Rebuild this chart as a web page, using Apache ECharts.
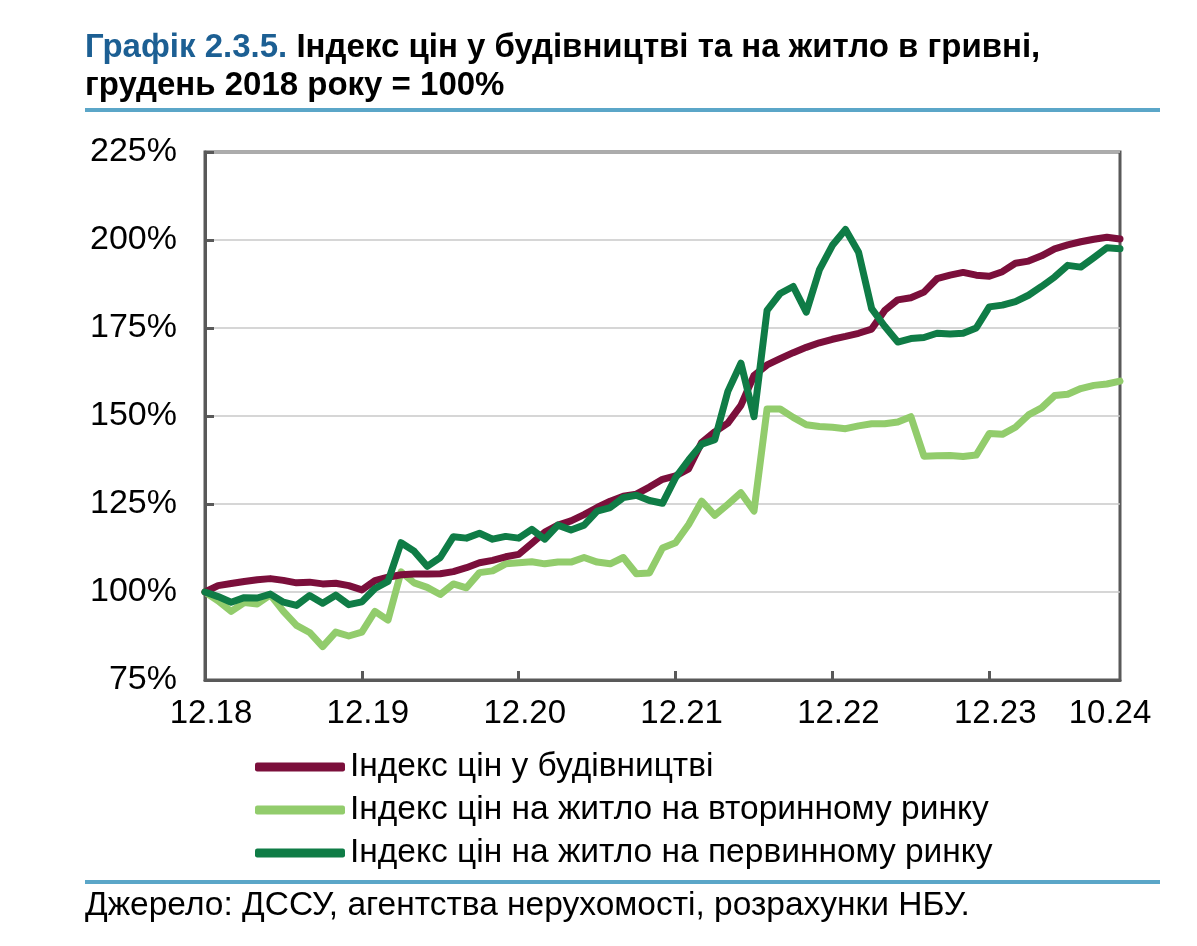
<!DOCTYPE html>
<html>
<head>
<meta charset="utf-8">
<script src="https://cdn.jsdelivr.net/npm/echarts@6/dist/echarts.min.js"></script>
<style>
html,body{margin:0;padding:0;background:#fff;}
#chart{width:1197px;height:946px;}
</style>
</head>
<body>
<div id="chart"></div>
<script>
const months = ['12.18','01.19','02.19','03.19','04.19','05.19','06.19','07.19','08.19','09.19','10.19','11.19',
'12.19','01.20','02.20','03.20','04.20','05.20','06.20','07.20','08.20','09.20','10.20','11.20',
'12.20','01.21','02.21','03.21','04.21','05.21','06.21','07.21','08.21','09.21','10.21','11.21',
'12.21','01.22','02.22','03.22','04.22','05.22','06.22','07.22','08.22','09.22','10.22','11.22',
'12.22','01.23','02.23','03.23','04.23','05.23','06.23','07.23','08.23','09.23','10.23','11.23',
'12.23','01.24','02.24','03.24','04.24','05.24','06.24','07.24','08.24','09.24','10.24'];

const shownLabels = ['12.18','12.19','12.20','12.21','12.22','12.23','10.24'];
const tickAt = ['12.19','12.20','12.21','12.22','12.23'];
const yTicks = [75,100,125,150,175,200,225];

const construction = [100,101.8,102.4,103.0,103.5,103.8,103.3,102.6,102.8,102.3,102.5,101.8,
100.6,103.2,104.2,104.9,105.1,105.1,105.2,105.8,106.9,108.3,109.0,110.0,
110.7,113.8,117.0,119.0,120.2,122.0,124.0,125.8,127.2,127.8,129.8,132.0,
133.0,135.0,142.5,145.5,148.0,153.0,161.5,164.5,166.3,168.0,169.5,170.8,
171.8,172.6,173.5,174.7,180.0,183.0,183.6,185.2,189.0,190.0,190.8,190.0,
189.7,191.0,193.4,194.0,195.5,197.5,198.6,199.5,200.2,200.8,200.3];

const secondary = [100,97.5,94.5,97.0,96.6,99.2,94.5,90.5,88.5,84.5,88.6,87.5,
88.6,94.5,92.0,105.7,102.6,101.3,99.3,102.3,101.2,105.5,106.0,108.0,
108.3,108.6,108.0,108.5,108.5,109.8,108.5,108.0,109.8,105.2,105.4,112.5,
114.0,119.2,125.8,121.8,124.9,128.2,123.0,152.0,152.0,149.6,147.5,147.0,
146.8,146.4,147.2,147.8,147.8,148.3,149.8,138.6,138.7,138.8,138.5,138.9,
145.0,144.8,146.8,150.3,152.3,155.8,156.2,157.8,158.7,159.1,159.9];

const primary = [100,98.7,97.1,98.4,98.3,99.4,97.1,96.2,99.0,96.8,99.1,96.4,
97.2,101.0,103.0,114.0,111.6,107.3,109.8,115.7,115.3,116.7,115.0,115.8,
115.3,117.8,115.0,119.0,117.6,119.0,123.0,124.0,126.8,127.5,126.0,125.2,
132.5,137.5,142.0,143.3,157.0,165.0,149.8,180.0,184.8,186.8,179.5,191.5,
198.5,203.0,196.5,180.5,175.5,171.0,172.0,172.3,173.5,173.3,173.5,175.0,
181.0,181.5,182.5,184.3,186.8,189.5,192.8,192.3,195.0,197.8,197.5];

const seriesNames = ['Індекс цін у будівництві','Індекс цін на житло на вторинному ринку','Індекс цін на житло на первинному ринку'];
const colors = ['#7b0f3b','#92cc6c','#0f7c46'];

const FONT = '"Liberation Sans", Arial, sans-serif';
const chart = echarts.init(document.getElementById('chart'), null, {renderer:'canvas'});

const option = {
  backgroundColor:'#fff',
  animation:false,
  title:{
    left:80, top:24,
    text:'{b|Графік 2.3.5. }{k|Індекс цін у будівництві та на житло в гривні,}\n{k|грудень 2018 року = 100%}',
    textStyle:{
      fontFamily:FONT,
      rich:{
        b:{color:'#1c5f93',fontWeight:'bold',fontSize:33,fontFamily:FONT,lineHeight:38},
        k:{color:'#000',fontWeight:'bold',fontSize:33,fontFamily:FONT,lineHeight:38}
      }
    }
  },
  graphic:[
    {type:'rect',shape:{x:85,y:108,width:1075,height:4},style:{fill:'#5ba6c8'}},
    {type:'rect',shape:{x:85,y:880,width:1075,height:4},style:{fill:'#5ba6c8'}},
    {type:'text',left:85,top:889,style:{text:'Джерело: ДССУ, агентства нерухомості, розрахунки НБУ.',fontSize:33.5,fontFamily:FONT,fill:'#000'}}
  ],
  legend:{
    orient:'vertical',
    left:250, top:745,
    itemWidth:90, itemHeight:9, itemGap:9,
    icon:'roundRect',
    data:seriesNames,
    textStyle:{fontSize:33.5,fontFamily:FONT,color:'#000',padding:[0,0,0,0]}
  },
  grid:{left:205, top:152, width:915, height:528, show:true, borderColor:'#595959', borderWidth:3, containLabel:false},
  xAxis:{
    type:'category',
    data:months,
    boundaryGap:false,
    axisLine:{show:true,lineStyle:{color:'#595959',width:3}},
    axisTick:{show:true,inside:true,length:9,lineStyle:{color:'#595959',width:3},
      interval:(i,v)=>tickAt.includes(v)},
    axisLabel:{
      interval:(i,v)=>shownLabels.includes(v),
      margin:17,
      fontSize:33, fontFamily:FONT, color:'#000',
      formatter:(v)=> v==='10.24' ? '{e|'+v+'}' : '{n|'+v+'}',
      rich:{
        n:{fontSize:33,fontFamily:FONT,color:'#000',padding:[0,0,0,12]},
        e:{fontSize:33,fontFamily:FONT,color:'#000',padding:[0,20,0,0]}
      }
    },
    splitLine:{show:false}
  },
  yAxis:{
    type:'value', min:yTicks[0], max:yTicks[yTicks.length-1], interval:25,
    axisLine:{show:true,lineStyle:{color:'#595959',width:3}},
    axisTick:{show:true,inside:true,length:9,lineStyle:{color:'#595959',width:3}},
    axisLabel:{formatter:'{value}%',fontSize:34,fontFamily:FONT,color:'#000',margin:28},
    splitLine:{show:true,lineStyle:{color:'#c9c9c9',width:1.5}}
  },
  series:[
    {name:seriesNames[0],type:'line',data:construction,symbol:'none',z:3,lineStyle:{color:colors[0],width:7,join:'round',cap:'round'},itemStyle:{color:colors[0]}},
    {name:seriesNames[1],type:'line',data:secondary,symbol:'none',z:2,lineStyle:{color:colors[1],width:7,join:'round',cap:'round'},itemStyle:{color:colors[1]}},
    {name:seriesNames[2],type:'line',data:primary,symbol:'none',z:4,lineStyle:{color:colors[2],width:7,join:'round',cap:'round'},itemStyle:{color:colors[2]}}
  ]
};
chart.setOption(option);
</script>
</body>
</html>
